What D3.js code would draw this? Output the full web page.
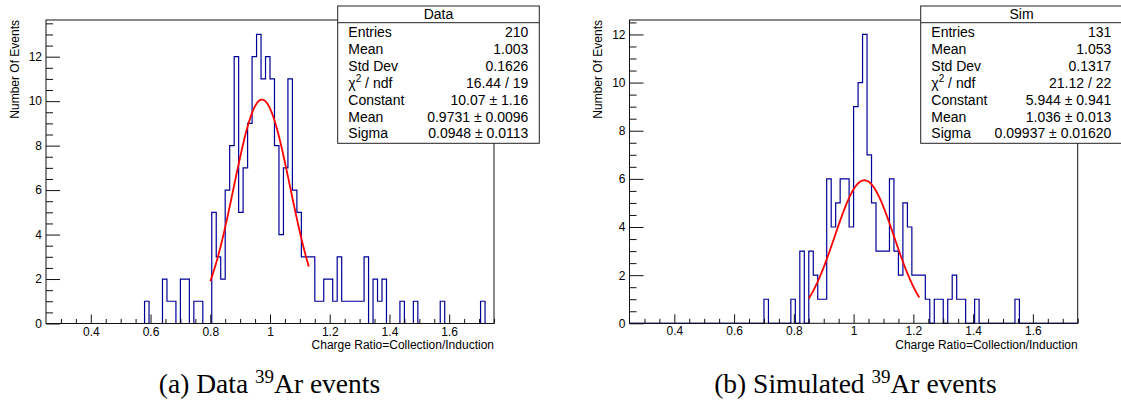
<!DOCTYPE html>
<html><head><meta charset="utf-8">
<script src="https://cdn.jsdelivr.net/npm/d3@7/dist/d3.min.js"></script>
<style>body{margin:0;background:#fff}svg{display:block}</style>
</head><body>
<svg id="c" width="1121" height="410"></svg>
<script>
// ---- histogram definition (100 bins, 0.25 .. 1.75) ----
const binLow = 0.25;
const binWidth = 0.015;
const xDomain = [0.25, 1.75];

// ---- bin contents ----
const dataCounts = [
 0,0,0,0,0,0,0,0,0,0, 0,0,0,0,0,0,0,0,0,0,
 0,0,1,0,0,0,2,1,1,0, 2,2,0,1,1,0,0,5,3,2,
 6,8,12,5,7,9,12,13,11,12, 11,8,4,7,11,6,5,3,3,3,
 1,1,2,2,1,3,1,1,1,1, 1,3,0,2,1,2,0,0,0,1,
 0,0,1,0,0,0,0,0,1,0, 0,0,0,0,0,0,0,1,0,0
];
const simCounts = [
 0,0,0,0,0,0,0,0,0,0, 0,0,0,0,0,0,0,0,0,0,
 0,0,0,0,0,0,0,0,0,0, 1,0,0,0,0,0,1,0,3,0,
 3,2,1,1,6,4,5,6,6,4, 9,10,12,7,5,3,3,3,6,3,
 2,5,4,2,2,2,1,0,1,1, 0,1,2,1,1,0,0,1,0,0,
 0,0,0,0,0,0,1,0,0,0, 0,0,0,0,0,0,0,0,0,0
];

// ---- gaussian fit parameters (constant, mean, sigma) and fit ranges ----
const dataFitParams = [10.07, 0.9731, 0.0948];
const dataFitRange = [0.8, 1.13];
const simFitParams = [5.944, 1.036, 0.09937];
const simFitRange = [0.85, 1.22];

// ---- ticks / labels ----
const xTicks = [0.4, 0.6, 0.8, 1.0, 1.2, 1.4, 1.6];
const xTickLabels = ["0.4", "0.6", "0.8", "1", "1.2", "1.4", "1.6"];
const yTicks = [0, 2, 4, 6, 8, 10, 12];
const yTickLabels = ["0", "2", "4", "6", "8", "10", "12"];
const dataYMax = 13.65;
const simYMax = 12.6;

// ---- stats boxes ----
const dataStatsTitle = "Data";
const dataStatsNames = ["Entries", "Mean", "Std Dev", "CHI", "Constant", "Mean", "Sigma"];
const dataStatsValues = ["210", "1.003", "0.1626", "16.44 / 19", "10.07 \u00b1 1.16", "0.9731 \u00b1 0.0096", "0.0948 \u00b1 0.0113"];
const simStatsTitle = "Sim";
const simStatsNames = ["Entries", "Mean", "Std Dev", "CHI", "Constant", "Mean", "Sigma"];
const simStatsValues = ["131", "1.053", "0.1317", "21.12 / 22", "5.944 \u00b1 0.941", "1.036 \u00b1 0.013", "0.09937 \u00b1 0.01620"];

const yTitle = "Number Of Events";
const xTitle = "Charge Ratio=Collection/Induction";
const captionA = ["(a) Data ", "39", "Ar events"];
const captionB = ["(b) Simulated ", "39", "Ar events"];

const svg = d3.select("#c");
svg.append("rect").attr("width", 1121).attr("height", 410).attr("fill", "#fff");
const SANS = "'Liberation Sans', Arial, Helvetica, sans-serif";

function drawPanel(p) {
  const g = svg.append("g");
  const x = d3.scaleLinear().domain(xDomain).range([p.x0, p.x1]);
  const y = d3.scaleLinear().domain([0, p.ymax]).range([p.y1, p.y0]);

  // histogram outline
  const pts = [];
  p.counts.forEach((c, i) => {
    const a = binLow + i * binWidth, b = a + binWidth;
    pts.push([a, c]); pts.push([b, c]);
  });
  pts.unshift([binLow, 0]); pts.push([binLow + p.counts.length * binWidth, 0]);
  g.append("path").datum(pts)
    .attr("d", d3.line().x(d => x(d[0])).y(d => y(d[1])))
    .attr("fill", "none").attr("stroke", "#000099").attr("stroke-width", 1.2);

  // gaussian fit
  const [C, M, S] = p.fit;
  const fx = d3.range(0, 201).map(k => p.fitRange[0] + (p.fitRange[1] - p.fitRange[0]) * k / 200);
  g.append("path").datum(fx)
    .attr("d", d3.line().x(v => x(v)).y(v => y(C * Math.exp(-0.5 * ((v - M) / S) ** 2))))
    .attr("fill", "none").attr("stroke", "#ff0000").attr("stroke-width", 1.8);

  // frame
  g.append("rect").attr("x", p.x0).attr("y", p.y0)
    .attr("width", p.x1 - p.x0).attr("height", p.y1 - p.y0)
    .attr("fill", "none").attr("stroke", "#111").attr("stroke-width", 1);

  // y axis (ticks pointing inward)
  const yMinor = d3.range(0, p.ymax, 0.5).filter(v => !yTicks.includes(v));
  const yMajor = yTicks.filter(v => v <= p.ymax);
  const ya = g.append("g").attr("transform", `translate(${p.x0},0)`)
    .call(d3.axisLeft(y).tickValues(yMajor).tickSize(-14).tickSizeOuter(0).tickPadding(4)
      .tickFormat((d) => yTickLabels[yTicks.indexOf(d)]));
  const ym = g.append("g").attr("transform", `translate(${p.x0},0)`)
    .call(d3.axisLeft(y).tickValues(yMinor).tickSize(-7).tickSizeOuter(0).tickFormat(""));

  // x axis
  const xMinor = d3.range(0.3, 1.7501, 0.05).map(v => Math.round(v * 100) / 100)
    .filter(v => !xTicks.some(t => Math.abs(t - v) < 1e-6));
  const xa = g.append("g").attr("transform", `translate(0,${p.y1})`)
    .call(d3.axisBottom(x).tickValues(xTicks).tickSize(-9).tickSizeOuter(0).tickPadding(3.5)
      .tickFormat((d, i) => xTickLabels[i]));
  const xm = g.append("g").attr("transform", `translate(0,${p.y1})`)
    .call(d3.axisBottom(x).tickValues(xMinor).tickSize(-4.5).tickSizeOuter(0).tickFormat(""));

  [ya, ym, xa, xm].forEach(a => {
    a.select(".domain").remove();
    a.selectAll("line").attr("stroke", "#111");
    a.selectAll("text").attr("font-family", SANS).attr("font-size", 12).attr("fill", "#000");
  });

  // axis titles
  g.append("text").attr("transform", `translate(${p.x0 - 27.5},${p.y0}) rotate(-90)`)
    .attr("text-anchor", "end").attr("font-family", SANS).attr("font-size", 12).text(yTitle);
  g.append("text").attr("x", p.x1).attr("y", p.y1 + 25.5)
    .attr("text-anchor", "end").attr("font-family", SANS).attr("font-size", 12).text(xTitle);

  // stats box
  const b = p.box;
  g.append("rect").attr("x", b.x).attr("y", b.y).attr("width", b.w).attr("height", b.h)
    .attr("fill", "#fff").attr("stroke", "#222").attr("stroke-width", 1);
  g.append("line").attr("x1", b.x).attr("x2", b.x + b.w).attr("y1", b.y + 16.7).attr("y2", b.y + 16.7)
    .attr("stroke", "#222");
  g.append("text").attr("x", b.x + b.w / 2).attr("y", b.y + 13.4).attr("text-anchor", "middle")
    .attr("font-family", SANS).attr("font-size", 14).text(p.statsTitle);
  p.statsNames.forEach((n, i) => {
    const yy = b.y + 31.3 + i * 16.85;
    const t = g.append("text").attr("x", b.x + 10.6).attr("y", yy)
      .attr("font-family", SANS).attr("font-size", 14);
    if (n === "CHI") {
      t.append("tspan").text("\u03c7");
      t.append("tspan").attr("dy", -6).attr("font-size", 10).text("2");
      t.append("tspan").attr("dy", 6).text(" / ndf");
    } else t.text(n);
    g.append("text").attr("x", b.x + b.w - 11).attr("y", yy).attr("text-anchor", "end")
      .attr("font-family", SANS).attr("font-size", 14).text(p.statsValues[i]);
  });

  // caption
  const cap = svg.append("text").attr("x", p.capX).attr("y", 393).attr("text-anchor", "middle")
    .attr("font-family", "'Liberation Serif', 'Times New Roman', serif").attr("font-size", 27.5);
  cap.append("tspan").text(p.caption[0]);
  cap.append("tspan").attr("dy", -10).attr("font-size", 19).text(p.caption[1]);
  cap.append("tspan").attr("dy", 10).text(p.caption[2]);
}

drawPanel({
  x0: 46, x1: 494, y0: 20, y1: 323.5, ymax: dataYMax,
  counts: dataCounts, fit: dataFitParams, fitRange: dataFitRange,
  box: {x: 337.7, y: 6, w: 201.6, h: 137.3},
  statsTitle: dataStatsTitle, statsNames: dataStatsNames, statsValues: dataStatsValues,
  caption: captionA, capX: 269.5
});
drawPanel({
  x0: 629.5, x1: 1077.7, y0: 20, y1: 323.3, ymax: simYMax,
  counts: simCounts, fit: simFitParams, fitRange: simFitRange,
  box: {x: 920.7, y: 6, w: 201.6, h: 137.3},
  statsTitle: simStatsTitle, statsNames: simStatsNames, statsValues: simStatsValues,
  caption: captionB, capX: 855.4
});
</script>
</body></html>
